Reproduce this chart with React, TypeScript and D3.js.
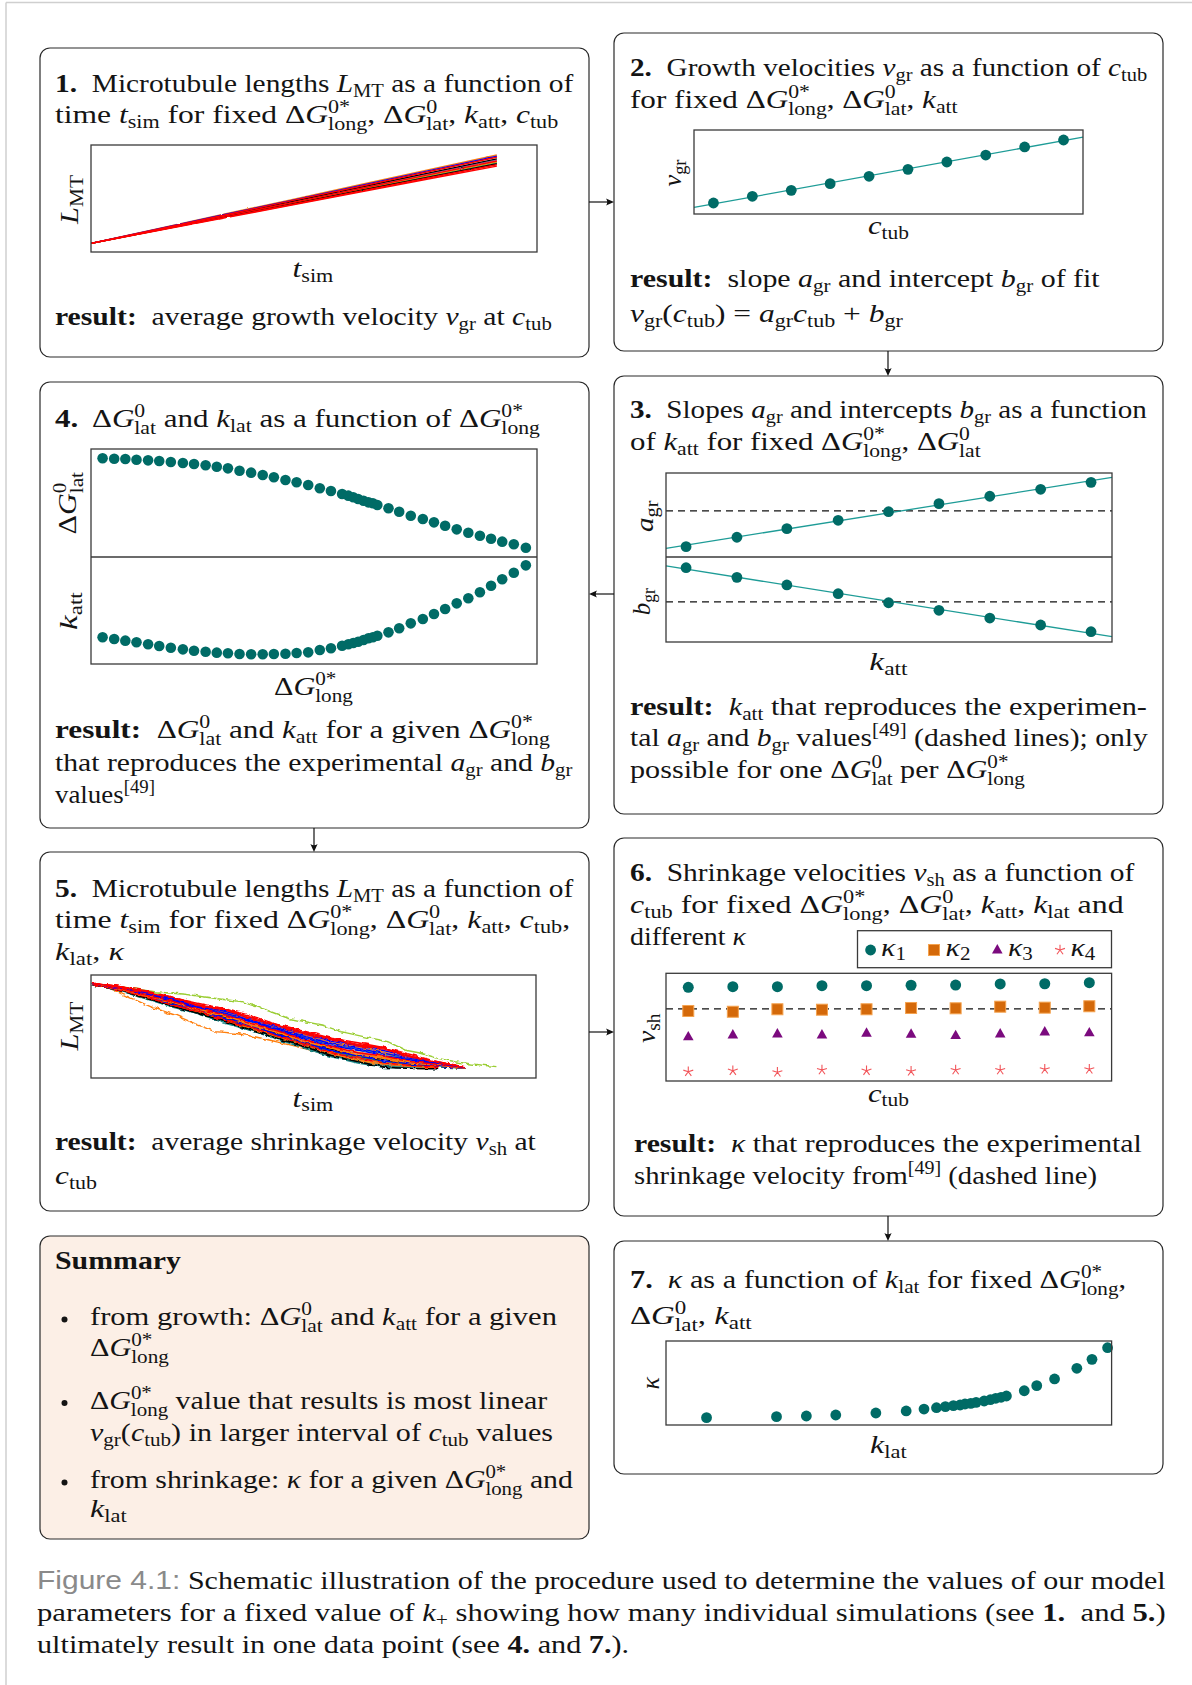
import React, { useLayoutEffect, useRef } from 'react';
import * as d3 from 'd3';

// ================= DATA =================
// Panel 1: growth traces (L_MT vs t_sim), arbitrary units
const P1_TIME = [0, 15, 30, 45, 60, 75, 91];
const P1_LENGTHS = [
  [8.1, 20.6, 33.0, 45.4, 57.9, 70.4, 83.5],
  [8.1, 20.6, 33.2, 45.6, 58.2, 70.8, 84.0],
  [8.1, 21.0, 33.9, 46.7, 59.6, 72.5, 86.0],
  [8.1, 20.7, 33.4, 45.9, 58.6, 71.2, 84.5],
  [8.1, 20.4, 32.7, 44.9, 57.2, 69.5, 82.5],
  [8.1, 21.1, 34.2, 47.2, 60.3, 73.3, 87.0],
  [8.1, 21.8, 35.5, 49.0, 62.6, 76.3, 90.7],
  [8.1, 21.5, 35.0, 48.3, 61.8, 75.4, 89.5],
  [8.1, 20.8, 33.5, 46.2, 58.9, 71.6, 85.0],
  [8.1, 20.2, 32.4, 44.4, 56.6, 68.7, 81.5],
  [8.1, 20.0, 31.9, 43.8, 55.7, 67.7, 80.3],
  [8.1, 21.3, 34.6, 48.0, 61.0, 74.5, 88.5],
];
const P1_COLORS = ['#17a0a0', '#9acd32', '#9467bd', '#ff7f0e', '#000000', '#000000', '#ff7f0e', '#0000ff', '#ff0000', '#ff0000', '#ff0000', '#ff0000'];

// Panel 2: growth velocity vs tubulin concentration
const P2_CTUB = [5, 15, 25, 35, 45, 55, 65, 75, 85, 95];
const P2_VGR = [13.1, 21.1, 28.2, 36.1, 44.9, 53.2, 61.9, 70.2, 79.8, 88.1];

// Panel 3: slopes / intercepts vs k_att
const P3_KATT = [4.5, 15.9, 27.1, 38.6, 49.9, 61.2, 72.6, 84.0, 95.3];
const P3_AGR = [12.3, 23.5, 33.7, 43.7, 53.9, 63.5, 72.3, 80.6, 88.9];
const P3_BGR = [87.4, 76.1, 67.1, 56.8, 46.2, 37.3, 28.2, 20.0, 12.1];
const P3_AGR_EXP = 54.8;
const P3_BGR_EXP = 47.1;

// Panel 4: ΔG_lat and k_att vs ΔG_long
const P4_DGLONG = [2.6, 5.2, 7.7, 10.2, 12.8, 15.3, 17.9, 20.6, 23.1, 25.7, 28.2, 30.7, 33.3, 35.9, 38.5, 41.0, 43.6, 46.1, 48.7, 51.3, 53.8, 56.3, 57.7, 58.8, 59.9, 61.1, 62.2, 63.2, 64.2, 66.7, 69.1, 71.7, 74.4, 76.9, 79.4, 82.0, 84.6, 87.2, 89.7, 92.2, 94.8, 97.5];
const P4_DGLAT = [91.4, 91.0, 90.7, 90.1, 89.5, 88.9, 88.0, 87.0, 86.1, 84.9, 83.6, 82.1, 79.9, 78.1, 75.9, 73.8, 71.3, 69.2, 66.7, 63.6, 61.1, 58.3, 56.8, 55.3, 53.7, 52.1, 50.6, 49.7, 48.1, 45.1, 41.9, 38.2, 35.2, 32.1, 29.0, 25.6, 22.5, 19.7, 16.9, 14.2, 11.8, 8.6];
const P4_KATT = [25.0, 23.4, 21.8, 20.3, 18.4, 16.8, 15.2, 13.7, 12.4, 11.5, 10.6, 10.0, 9.3, 9.1, 9.1, 9.3, 9.6, 10.3, 10.9, 13.1, 14.7, 17.1, 18.4, 19.6, 20.8, 22.4, 24.0, 25.0, 26.4, 29.6, 33.4, 38.0, 42.1, 46.7, 51.4, 56.7, 61.4, 67.0, 73.2, 79.2, 85.3, 92.2];

// Panel 5: shrinkage traces
const P5_TIME = [0, 6, 12, 18, 24, 30, 36, 42, 48, 54, 60, 66, 72, 78, 84];
const P5_LENGTHS = [
  [91.6, 87.9, 81.6, 76, 68.2, 62.9, 54.5, 47.3, 38.8, 32.9, 26.8, 23.3, 17.2, 13.8, 10.1],
  [91.3, 86.4, 78.9, 72.3, 64.6, 57.7, 49.1, 41.9, 32.7, 25.9, 19.7, 15.9, 12.6, 10.9],
  [91.2, 85.5, 78.7, 70.6, 64.2, 55.5, 48.2, 39.5, 31.5, 23.3, 18.1, 13.1, 11.2, 9.8],
  [91.5, 86.6, 81, 73.4, 67.2, 59.6, 52.6, 43.8, 36.6, 28.7, 24, 18.9, 15.6, 12.1, 9.8],
  [91, 84.9, 77.7, 69.2, 62.8, 53.3, 46.1, 37.4, 29.2, 20.6, 14.6, 10.2, 9.5, 9.2],
  [91.1, 85.6, 77.4, 70.3, 62.6, 54.7, 46, 38.7, 29.2, 22, 15.5, 11.5, 9.9, 9.4],
  [91.3, 86, 79.9, 71.9, 65.7, 57.4, 50.4, 41.6, 33.9, 26, 20.9, 16, 13.5, 11, 9.5],
  [91.7, 88.2, 81.8, 76.5, 68.5, 63.6, 55, 47.9, 39.4, 33.8, 27.5, 24.2, 17.7, 14.2, 10.2],
  [91.8, 87.7, 83.3, 76.3, 70.2, 63.8, 57.1, 48.2, 41.7, 34.3, 30, 25.1, 18.6, 14.2, 10.6],
  [91.2, 85.9, 78.2, 71.1, 63.7, 56, 47.6, 40.1, 30.9, 23.8, 17.5, 13.7, 11.3, 10],
  [91.5, 86.8, 81.3, 73.8, 67.6, 60.1, 53.2, 44.4, 37.2, 29.5, 24.8, 19.9, 16.1, 12.4, 10],
  [91.4, 86.9, 79.6, 73.3, 65.6, 59.2, 50.6, 43.4, 34.4, 27.9, 21.6, 17.9, 13.8, 11.5, 9.6],
  [91.1, 85.3, 78.2, 70, 62.9, 55, 46.5, 38.4, 30.3, 21.9, 15.8, 10.5, 9.3, 9.1],
  [91.6, 87.1, 82, 74.8, 68.7, 61.5, 54.8, 45.8, 38.9, 31.3, 26.9, 21.7, 17.5, 12.9, 10],
  [91.9, 89, 83.4, 78.6, 70.7, 66.7, 58.2, 51.3, 43.1, 37.9, 31.8, 28.8, 20.6, 15.1, 10.5],
  [91.7, 87.6, 82.8, 75.8, 69.6, 63, 56.2, 47.4, 40.6, 33.3, 28.8, 23.9, 18.8, 13.7, 10.3],
  [91.4, 86.1, 80.1, 72.2, 66, 57.8, 50.8, 42, 34.5, 26.5, 21.5, 16.6, 13.9, 11.3, 9.6],
  [91.2, 85.7, 79.3, 71.2, 64.9, 56.4, 49.3, 40.5, 32.8, 24.6, 19.5, 14.5, 12.1, 10.4],
  [91.4, 87.1, 80, 73.9, 66.1, 59.9, 51.3, 44.2, 35.2, 28.9, 22.6, 19, 14.5, 12.4, 9.7],
  [91.5, 87.5, 80.6, 74.9, 67, 61.4, 52.8, 45.7, 36.9, 30.9, 24.5, 21.2, 15.7, 13.1, 9.9],
  [91.8, 88.1, 83.8, 77, 70.9, 64.8, 58.2, 49.3, 42.9, 35.7, 31.4, 26.5, 20.4, 14.6, 10.4],
  [91.9, 88.8, 83.2, 78.2, 70.4, 66.2, 57.8, 50.6, 42.6, 37.1, 31.2, 27.8, 20.1, 15.4, 10.7],
  [91.9, 89.2, 83.7, 78.9, 71.1, 67.2, 58.8, 51.7, 43.7, 38.4, 32.6, 29.3, 21, 15.9, 10.8],
  [92, 88.6, 84.9, 78.4, 72.6, 67, 60.5, 51.6, 45.4, 38.5, 34.3, 29.4, 22.5, 15.6, 11],
];
const P5_COLORS = ['#bcbd22', '#17becf', '#8c564b', '#9467bd', '#1b8a8a', '#1f8f8f', '#2ca02c', '#1f9e9e', '#ff7f0e', '#ff7f0e', '#ff7f0e', '#000000', '#000000', '#0000ff', '#ff0000', '#0000ff', '#0000ff', '#ff0000', '#ff7f0e', '#ff0000', '#0000ff', '#ff0000', '#ff0000', '#ff0000'];
const P5_GREEN_TIME = [0, 6, 14.3, 21.1, 29.3, 33.8, 38.3, 44.3, 48, 51.8, 56.2, 63, 66.7, 70.5, 74.2, 78, 81.7, 85.5, 91.1];
const P5_GREEN_L = [91.8, 88.9, 83.8, 81.3, 76.4, 74.1, 67.7, 58, 54.7, 51.5, 45, 38.5, 35.2, 27.2, 24, 19.1, 15.8, 13.6, 11];
const P5_ORANGE_TIME = [0, 4, 9.1, 14.3, 18.8, 24, 27.8, 32.3, 36.8, 42, 48, 54, 60, 66, 72, 76];
const P5_ORANGE_L = [91.3, 87.5, 77.4, 67.7, 61.2, 51.5, 45, 43.4, 40.1, 35, 28.5, 22, 16.5, 12, 9.5, 9.2];

// Panel 6: shrinkage velocity vs c_tub for different kappa
const P6_CTUB = [5, 15, 25, 35, 45, 55, 65, 75, 85, 95];
const P6_K1 = [87.0, 87.6, 87.6, 88.5, 88.5, 88.9, 89.1, 90.1, 90.3, 91.3];
const P6_K2 = [65.0, 64.3, 66.6, 66.2, 66.6, 67.8, 67.5, 69.0, 68.1, 69.4];
const P6_K3 = [40.9, 42.7, 43.6, 42.7, 44.3, 43.4, 42.1, 43.6, 45.5, 44.6];
const P6_K4 = [8.6, 9.6, 8.1, 10.2, 9.6, 9.0, 10.2, 10.2, 10.9, 10.9];
const P6_EXP = 66.9;
const P6_LEGEND = ['$κ_1$', '$κ_2$', '$κ_3$', '$κ_4$'];

// Panel 7: kappa vs k_lat
const P7_KLAT = [9.1, 24.8, 31.5, 38.1, 47.1, 53.9, 57.9, 60.7, 62.7, 64.5, 66.0, 67.1, 68.4, 69.6, 71.4, 72.8, 74.0, 75.2, 76.4, 80.4, 83.2, 87.2, 92.2, 95.6, 99.1];
const P7_KAPPA = [8.7, 9.9, 10.7, 11.9, 14.3, 16.7, 19.0, 20.6, 21.8, 23.0, 23.8, 25.0, 25.8, 27.0, 28.6, 30.1, 31.8, 33.0, 34.5, 40.8, 46.8, 54.8, 67.5, 78.2, 92.0];

// ================= HELPERS =================
const FS = 26;
const TEAL = '#006b66';
const FITC = '#1e9c97';
const INK = '#141414';
const SERIF = '"Liberation Serif", "Times New Roman", Tinos, "DejaVu Serif", serif';
const SANS = '"Liberation Sans", Arial, "DejaVu Sans", sans-serif';

type Run = { t: string; it: boolean; b: boolean; pos: 'n' | 'sub' | 'sup'; dx: number; stacked: boolean };

function parse(src: string, fs: number): Run[] {
  const runs: Run[] = [];
  let i = 0, bold = false, math = false;
  while (i < src.length) {
    if (src.startsWith('**', i)) { bold = !bold; i += 2; continue; }
    const c = src[i];
    if (c === '$') { math = !math; i++; continue; }
    if ((c === '_' || c === '^') && math) {
      i++;
      let g = '';
      if (src[i] === '{') { const j = src.indexOf('}', i); g = src.slice(i + 1, j); i = j + 1; }
      else { g = src[i]; i++; }
      const pos: 'sub' | 'sup' = c === '_' ? 'sub' : 'sup';
      const prev = runs[runs.length - 1];
      let dx = 0, stacked = false;
      if (prev && prev.pos !== 'n' && prev.pos !== pos) {
        dx = -prev.t.length * 0.5 * fs * 0.7;
        stacked = true; prev.stacked = true;
      }
      runs.push({ t: g, it: false, b: bold, pos, dx, stacked });
      continue;
    }
    const it = math && /[A-Za-zκ]/.test(c);
    const last = runs[runs.length - 1];
    if (last && last.pos === 'n' && last.it === it && last.b === bold) last.t += c;
    else runs.push({ t: c, it, b: bold, pos: 'n', dx: 0, stacked: false });
    i++;
  }
  return runs;
}

function Tx({ s, x, y, w, mode = 'left', fs = FS, prefix }: { s: string; x: number; y: number; w?: number; mode?: string; fs?: number; prefix?: React.ReactNode }) {
  const runs = parse(s, fs);
  return (
    <text data-mode={mode} data-x={x} data-y={y} data-w={w ?? ''} fontSize={fs} fill={INK} style={{ whiteSpace: 'pre', fontFamily: SERIF }}>
      {prefix}
      {runs.map((r, i) => (
        <tspan key={i}
          y={r.pos === 'sub' ? (r.stacked ? 6.5 : 4.5) : r.pos === 'sup' ? -10.5 : 0}
          dx={r.dx ? r.dx : undefined}
          fontSize={r.pos === 'n' ? undefined : fs * 0.7}
          fontStyle={r.it ? 'italic' : undefined}
          fontWeight={r.b ? 'bold' : undefined}>{r.t}</tspan>
      ))}
    </text>
  );
}

function Arrow({ x1, y1, x2, y2 }: { x1: number; y1: number; x2: number; y2: number }) {
  const dx = x2 - x1, dy = y2 - y1, len = Math.hypot(dx, dy);
  const ux = dx / len, uy = dy / len, px = -uy, py = ux;
  const hl = 8, hw = 3.6;
  const bx = x2 - ux * hl, by = y2 - uy * hl;
  return (
    <g>
      <line x1={x1} y1={y1} x2={bx + ux * 2} y2={by + uy * 2} stroke="#111" strokeWidth={1.2} />
      <path d={`M${x2},${y2} L${bx + px * hw},${by + py * hw} Q${bx + ux * 2.5},${by + uy * 2.5} ${bx - px * hw},${by - py * hw} Z`} fill="#111" />
    </g>
  );
}

function linfit(xs: number[], ys: number[]): [number, number] {
  const mx = d3.mean(xs) as number, my = d3.mean(ys) as number;
  let sxy = 0, sxx = 0;
  xs.forEach((x, i) => { sxy += (x - mx) * (ys[i] - my); sxx += (x - mx) * (x - mx); });
  const a = sxy / sxx;
  return [a, my - a * mx];
}

function Box({ x0, y0, x1, y1, fill = 'white' }: { x0: number; y0: number; x1: number; y1: number; fill?: string }) {
  return <rect x={x0} y={y0} width={x1 - x0} height={y1 - y0} rx={10} ry={10} fill={fill} stroke="#2a2a2a" strokeWidth={1.2} />;
}

function Frame({ x, y, w, h }: { x: number; y: number; w: number; h: number }) {
  return <rect x={x} y={y} width={w} height={h} fill="none" stroke="#3a3a3a" strokeWidth={1.3} />;
}

function starPath(r: number) {
  let d = '';
  for (let k = 0; k < 5; k++) {
    const a = (-90 + k * 72) * Math.PI / 180;
    d += `M0,0 L${(r * Math.cos(a)).toFixed(2)},${(r * Math.sin(a)).toFixed(2)} `;
  }
  return d;
}

export default function App() {
  const ref = useRef<SVGSVGElement>(null);

  useLayoutEffect(() => {
    const svg = ref.current;
    if (!svg) return;
    const apply = () => {
      svg.querySelectorAll('text[data-mode]').forEach((node) => {
        const el = node as SVGTextElement;
        const bb = el.getBBox();
        if (!bb.width) return;
        const mode = el.getAttribute('data-mode');
        const x = +(el.getAttribute('data-x') as string), y = +(el.getAttribute('data-y') as string);
        const wa = el.getAttribute('data-w');
        const s = wa ? +wa / bb.width : 1;
        let tr = '';
        if (mode === 'left') tr = `translate(${x},${y}) scale(${s},1) translate(${-bb.x},0)`;
        else if (mode === 'center') tr = `translate(${x},${y}) scale(${s},1) translate(${-(bb.x + bb.width / 2)},0)`;
        else tr = `translate(${x},${y}) rotate(-90) scale(${s},1) translate(${-(bb.x + bb.width / 2)},${-(bb.y + bb.height / 2)})`;
        el.setAttribute('transform', tr);
      });
    };
    apply();
    (document as any).fonts?.ready?.then(apply);
  }, []);

  // ---------- scales ----------
  const p1x = d3.scaleLinear().domain([0, 100]).range([91, 537]);
  const p1y = d3.scaleLinear().domain([0, 100]).range([252, 145]);
  const p2x = d3.scaleLinear().domain([0, 100]).range([694, 1083]);
  const p2y = d3.scaleLinear().domain([0, 100]).range([214, 130]);
  const p3x = d3.scaleLinear().domain([0, 100]).range([666, 1112]);
  const p3ya = d3.scaleLinear().domain([0, 100]).range([557, 473]);
  const p3yb = d3.scaleLinear().domain([0, 100]).range([642, 557]);
  const p4x = d3.scaleLinear().domain([0, 100]).range([91, 537]);
  const p4yu = d3.scaleLinear().domain([0, 100]).range([557, 449]);
  const p4yl = d3.scaleLinear().domain([0, 100]).range([664, 557]);
  const p5x = d3.scaleLinear().domain([0, 100]).range([91, 536]);
  const p5y = d3.scaleLinear().domain([0, 100]).range([1078, 975]);
  const p6x = d3.scaleLinear().domain([0, 100]).range([666, 1111.6]);
  const p6y = d3.scaleLinear().domain([0, 100]).range([1081, 973.3]);
  const p7x = d3.scaleLinear().domain([0, 100]).range([666, 1111.6]);
  const p7y = d3.scaleLinear().domain([0, 100]).range([1425, 1341]);

  const line1 = d3.line<number>().x((_, i) => p1x(P1_TIME[i])).y((d) => p1y(d));
  const line5 = d3.line<number>().x((_, i) => p5x(P5_TIME[i])).y((d) => p5y(d));
  const line5xy = d3.line<[number, number]>().x((d) => p5x(d[0])).y((d) => p5y(d[1]));

  const [a2, b2] = linfit(P2_CTUB, P2_VGR);
  const [a3a, b3a] = linfit(P3_KATT, P3_AGR);
  const [a3b, b3b] = linfit(P3_KATT, P3_BGR);

  const DGL = 'ΔG^{0*}_{long}';
  const DGT = 'ΔG^{0}_{lat}';

  return (
    <div style={{ position: 'absolute', left: 0, top: 0, width: 1192, height: 1685, background: 'white' }}>
      <svg ref={ref} width={1192} height={1685} viewBox="0 0 1192 1685" style={{ display: 'block' }}>
        <defs>
          <filter id="jitter" x="-3%" y="-10%" width="106%" height="120%">
            <feTurbulence type="fractalNoise" baseFrequency="0.16 0.22" numOctaves={2} seed={7} result="noise" />
            <feDisplacementMap in="SourceGraphic" in2="noise" scale={4} xChannelSelector="R" yChannelSelector="G" />
          </filter>
          <filter id="jitterSoft" x="-3%" y="-10%" width="106%" height="120%">
            <feTurbulence type="fractalNoise" baseFrequency="0.12 0.18" numOctaves={1} seed={3} result="noise" />
            <feDisplacementMap in="SourceGraphic" in2="noise" scale={2} xChannelSelector="R" yChannelSelector="G" />
          </filter>
        </defs>
        <rect x={0} y={0} width={1192} height={1685} fill="white" />
        {/* faint page frame */}
        <line x1={6} y1={2.5} x2={1192} y2={2.5} stroke="#cfcfcf" strokeWidth={1.5} />
        <line x1={6} y1={2.5} x2={6} y2={1685} stroke="#cfcfcf" strokeWidth={1.5} />

        {/* boxes */}
        <Box x0={40} y0={48} x1={589} y1={357} />
        <Box x0={614} y0={33} x1={1163} y1={351} />
        <Box x0={614} y0={376} x1={1163} y1={814} />
        <Box x0={40} y0={382} x1={589} y1={828} />
        <Box x0={40} y0={852} x1={589} y1={1211} />
        <Box x0={614} y0={838} x1={1163} y1={1216} />
        <Box x0={614} y0={1241} x1={1163} y1={1474} />
        <Box x0={40} y0={1236} x1={589} y1={1539} fill="#fcefe6" />

        {/* arrows */}
        <Arrow x1={589} y1={202} x2={614} y2={202} />
        <Arrow x1={888} y1={351} x2={888} y2={376} />
        <Arrow x1={614} y1={594} x2={589} y2={594} />
        <Arrow x1={314} y1={828} x2={314} y2={852} />
        <Arrow x1={589} y1={1032} x2={614} y2={1032} />
        <Arrow x1={888} y1={1216} x2={888} y2={1241} />

        {/* ===== Panel 1 ===== */}
        <Tx s="**1.**  Microtubule lengths $L_{MT}$ as a function of" x={55} y={92} w={519} />
        <Tx s={`time $t_{sim}$ for fixed $${DGL}$, $${DGT}$, $k_{att}$, $c_{tub}$`} x={55} y={123} w={503} />
        <g filter="url(#jitterSoft)">
          {P1_LENGTHS.map((L, i) => (
            <path key={i} d={line1(L) as string} fill="none" stroke={P1_COLORS[i]} strokeWidth={1.4} />
          ))}
        </g>
        <Frame x={91} y={145} w={446} h={107} />
        <Tx s="$L_{MT}$" x={71} y={200} w={50} mode="rot" />
        <Tx s="$t_{sim}$" x={313} y={277} w={41} mode="center" />
        <Tx s="**result:**  average growth velocity $v_{gr}$ at $c_{tub}$" x={55} y={325} w={497} />

        {/* ===== Panel 2 ===== */}
        <Tx s="**2.**  Growth velocities $v_{gr}$ as a function of $c_{tub}$" x={630} y={76} w={517} />
        <Tx s={`for fixed $${DGL}$, $${DGT}$, $k_{att}$`} x={630} y={108} w={328} />
        <line x1={p2x(0)} y1={p2y(b2)} x2={p2x(100)} y2={p2y(a2 * 100 + b2)} stroke={FITC} strokeWidth={1.3} />
        {P2_CTUB.map((c, i) => <circle key={i} cx={p2x(c)} cy={p2y(P2_VGR[i])} r={5.4} fill={TEAL} />)}
        <Frame x={694} y={130} w={389} h={84} />
        <Tx s="$v_{gr}$" x={674} y={173} w={27} mode="rot" />
        <Tx s="$c_{tub}$" x={888.5} y={234} w={41} mode="center" />
        <Tx s="**result:**  slope $a_{gr}$ and intercept $b_{gr}$ of fit" x={630} y={287} w={470} />
        <Tx s="$v_{gr}(c_{tub}) = a_{gr}c_{tub} + b_{gr}$" x={630} y={322} w={273} />

        {/* ===== Panel 3 ===== */}
        <Tx s="**3.**  Slopes $a_{gr}$ and intercepts $b_{gr}$ as a function" x={630} y={418} w={517} />
        <Tx s={`of $k_{att}$ for fixed $${DGL}$, $${DGT}$`} x={630} y={450} w={351} />
        <line x1={666} x2={1112} y1={p3ya(P3_AGR_EXP)} y2={p3ya(P3_AGR_EXP)} stroke="#111" strokeWidth={1.2} strokeDasharray="7,5" />
        <line x1={666} x2={1112} y1={p3yb(P3_BGR_EXP)} y2={p3yb(P3_BGR_EXP)} stroke="#111" strokeWidth={1.2} strokeDasharray="7,5" />
        <line x1={p3x(0)} y1={p3ya(b3a)} x2={p3x(100)} y2={p3ya(a3a * 100 + b3a)} stroke={FITC} strokeWidth={1.3} />
        <line x1={p3x(0)} y1={p3yb(b3b)} x2={p3x(100)} y2={p3yb(a3b * 100 + b3b)} stroke={FITC} strokeWidth={1.3} />
        {P3_KATT.map((k, i) => <circle key={'a' + i} cx={p3x(k)} cy={p3ya(P3_AGR[i])} r={5.4} fill={TEAL} />)}
        {P3_KATT.map((k, i) => <circle key={'b' + i} cx={p3x(k)} cy={p3yb(P3_BGR[i])} r={5.4} fill={TEAL} />)}
        <Frame x={666} y={473} w={446} h={169} />
        <line x1={666} x2={1112} y1={557} y2={557} stroke="#3a3a3a" strokeWidth={1.3} />
        <Tx s="$a_{gr}$" x={645.5} y={516} w={32} mode="rot" />
        <Tx s="$b_{gr}$" x={643} y={601.7} w={27} mode="rot" />
        <Tx s="$k_{att}$" x={888.5} y={670} w={38.5} mode="center" />
        <Tx s="**result:**  $k_{att}$ that reproduces the experimen-" x={630} y={715} w={517} />
        <Tx s="tal $a_{gr}$ and $b_{gr}$ values$^{[49]}$ (dashed lines); only" x={630} y={746} w={518} />
        <Tx s={`possible for one $${DGT}$ per $${DGL}$`} x={630} y={778} w={395} />

        {/* ===== Panel 4 ===== */}
        <Tx s={`**4.**  $${DGT}$ and $k_{lat}$ as a function of $${DGL}$`} x={55} y={427} w={485} />
        {P4_DGLONG.map((g, i) => <circle key={'u' + i} cx={p4x(g)} cy={p4yu(P4_DGLAT[i])} r={5.3} fill={TEAL} />)}
        {P4_DGLONG.map((g, i) => <circle key={'l' + i} cx={p4x(g)} cy={p4yl(P4_KATT[i])} r={5.3} fill={TEAL} />)}
        <Frame x={91} y={449} w={446} h={215} />
        <line x1={91} x2={537} y1={557} y2={557} stroke="#3a3a3a" strokeWidth={1.3} />
        <Tx s={`$${DGT}$`} x={68} y={503} w={63} mode="rot" />
        <Tx s="$k_{att}$" x={70} y={611} w={38} mode="rot" />
        <Tx s={`$${DGL}$`} x={313.5} y={695} w={79} mode="center" />
        <Tx s={`**result:**  $${DGT}$ and $k_{att}$ for a given $${DGL}$`} x={55} y={738} w={495} />
        <Tx s="that reproduces the experimental $a_{gr}$ and $b_{gr}$" x={55} y={771} w={518} />
        <Tx s="values$^{[49]}$" x={55} y={803} w={100} />

        {/* ===== Panel 5 ===== */}
        <Tx s="**5.**  Microtubule lengths $L_{MT}$ as a function of" x={55} y={897} w={519} />
        <Tx s={`time $t_{sim}$ for fixed $${DGL}$, $${DGT}$, $k_{att}$, $c_{tub}$,`} x={55} y={928} w={515} />
        <Tx s="$k_{lat}$, $κ$" x={55} y={960} w={70} />
        <g filter="url(#jitter)">
          <path d={line5xy(P5_ORANGE_TIME.map((t, i) => [t, P5_ORANGE_L[i]] as [number, number])) as string} fill="none" stroke="#ff7f0e" strokeWidth={1.4} />
          <path d={line5xy(P5_GREEN_TIME.map((t, i) => [t, P5_GREEN_L[i]] as [number, number])) as string} fill="none" stroke="#9acd32" strokeWidth={1.4} />
          {P5_LENGTHS.map((L, i) => (
            <path key={i} d={line5(L) as string} fill="none" stroke={P5_COLORS[i]} strokeWidth={1.5} />
          ))}
        </g>
        <Frame x={91} y={975} w={445} h={103} />
        <Tx s="$L_{MT}$" x={71} y={1026.7} w={50} mode="rot" />
        <Tx s="$t_{sim}$" x={313} y={1106.7} w={41} mode="center" />
        <Tx s="**result:**  average shrinkage velocity $v_{sh}$ at" x={55} y={1150} w={481} />
        <Tx s="$c_{tub}$" x={55} y={1184} w={42} />

        {/* ===== Panel 6 ===== */}
        <Tx s="**6.**  Shrinkage velocities $v_{sh}$ as a function of" x={630} y={881} w={505} />
        <Tx s={`$c_{tub}$ for fixed $${DGL}$, $${DGT}$, $k_{att}$, $k_{lat}$ and`} x={630} y={913} w={494} />
        <Tx s="different $κ$" x={630} y={945} w={117} />
        {/* legend */}
        <rect x={857.5} y={930.7} width={254} height={37} fill="white" stroke="#3a3a3a" strokeWidth={1.3} />
        <circle cx={870.6} cy={950} r={5.4} fill={TEAL} />
        <rect x={934 - 5.5} y={950 - 5.5} width={11} height={11} fill="#d4690a" stroke="#f4a24e" strokeWidth={1} />
        <path d="M997.3,944 L1002.6,953.5 L992,953.5 Z" fill="#7b0a7e" />
        <path d={starPath(5.2)} transform="translate(1060,950)" stroke="#f2555a" strokeWidth={1.1} fill="none" />
        <Tx s={P6_LEGEND[0]} x={881} y={955.5} w={25} />
        <Tx s={P6_LEGEND[1]} x={945.6} y={955.5} w={25} />
        <Tx s={P6_LEGEND[2]} x={1008} y={955.5} w={25} />
        <Tx s={P6_LEGEND[3]} x={1070.5} y={955.5} w={25} />
        {/* plot */}
        <line x1={666} x2={1111.6} y1={p6y(P6_EXP)} y2={p6y(P6_EXP)} stroke="#111" strokeWidth={1.2} strokeDasharray="7,5" />
        {P6_CTUB.map((c, i) => <circle key={'c' + i} cx={p6x(c)} cy={p6y(P6_K1[i])} r={5.5} fill={TEAL} />)}
        {P6_CTUB.map((c, i) => <rect key={'s' + i} x={p6x(c) - 5.5} y={p6y(P6_K2[i]) - 5.5} width={11} height={11} fill="#d4690a" stroke="#f4a24e" strokeWidth={1} />)}
        {P6_CTUB.map((c, i) => (
          <path key={'t' + i} d="M0,-6 L5.3,3.4 L-5.3,3.4 Z" transform={`translate(${p6x(c)},${p6y(P6_K3[i])})`} fill="#7b0a7e" />
        ))}
        {P6_CTUB.map((c, i) => (
          <path key={'r' + i} d={starPath(5.2)} transform={`translate(${p6x(c)},${p6y(P6_K4[i])})`} stroke="#f2555a" strokeWidth={1.1} fill="none" />
        ))}
        <Frame x={666} y={973.3} w={445.6} h={107.7} />
        <Tx s="$v_{sh}$" x={648} y={1028} w={30} mode="rot" />
        <Tx s="$c_{tub}$" x={888.5} y={1101.7} w={41} mode="center" />
        <Tx s="**result:**  $κ$ that reproduces the experimental" x={634} y={1152} w={508} />
        <Tx s="shrinkage velocity from$^{[49]}$ (dashed line)" x={634} y={1184} w={463} />

        {/* ===== Panel 7 ===== */}
        <Tx s={`**7.**  $κ$ as a function of $k_{lat}$ for fixed $${DGL}$,`} x={630} y={1288} w={496} />
        <Tx s={`$${DGT}$, $k_{att}$`} x={630} y={1324} w={122} />
        {P7_KLAT.map((k, i) => <circle key={i} cx={p7x(k)} cy={p7y(P7_KAPPA[i])} r={5.4} fill={TEAL} />)}
        <Frame x={666} y={1341} w={445.6} h={84} />
        <Tx s="$κ$" x={650} y={1383} w={13} mode="rot" />
        <Tx s="$k_{lat}$" x={888.5} y={1453} w={37} mode="center" />

        {/* ===== Summary ===== */}
        <Tx s="**Summary**" x={55} y={1269} w={126} />
        <circle cx={64.5} cy={1319.5} r={3} fill={INK} />
        <circle cx={64.5} cy={1403} r={3} fill={INK} />
        <circle cx={64.5} cy={1482.5} r={3} fill={INK} />
        <Tx s={`from growth: $${DGT}$ and $k_{att}$ for a given`} x={90} y={1325} w={467} />
        <Tx s={`$${DGL}$`} x={90} y={1356} w={79} />
        <Tx s={`$${DGL}$ value that results is most linear`} x={90} y={1409} w={458} />
        <Tx s="$v_{gr}(c_{tub})$ in larger interval of $c_{tub}$ values" x={90} y={1441} w={463} />
        <Tx s={`from shrinkage: $κ$ for a given $${DGL}$ and`} x={90} y={1488} w={483} />
        <Tx s="$k_{lat}$" x={90} y={1517} w={37} />

        {/* ===== Caption ===== */}
        <Tx s=" Schematic illustration of the procedure used to determine the values of our model" x={37} y={1589} w={1129}
          prefix={<tspan style={{ fontFamily: SANS }} fill="#8a8a8a">Figure 4.1:</tspan>} />
        <Tx s="parameters for a fixed value of $k_+$ showing how many individual simulations (see **1.**  and **5.**)" x={37} y={1621} w={1129} />
        <Tx s="ultimately result in one data point (see **4.** and **7.**)." x={37} y={1653} w={592} />
      </svg>
    </div>
  );
}
